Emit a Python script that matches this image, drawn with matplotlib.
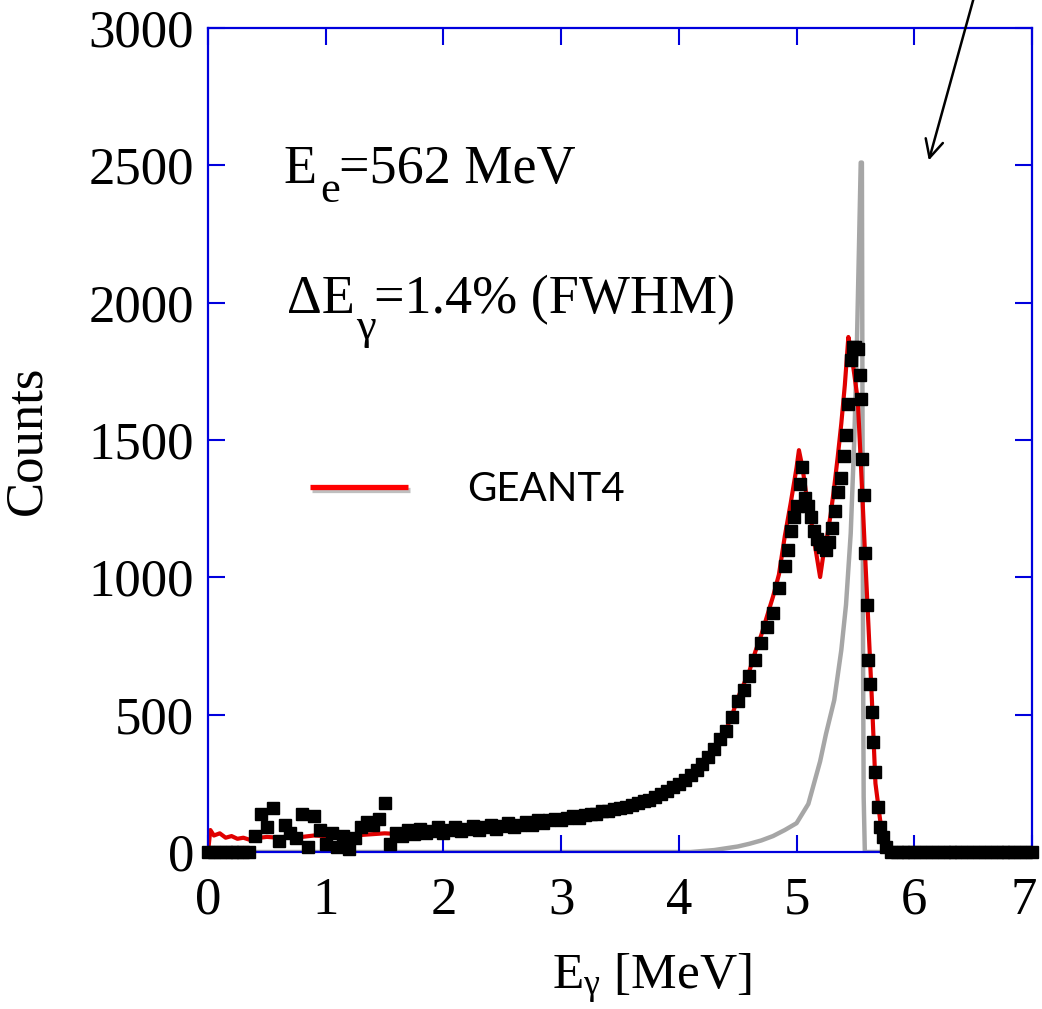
import numpy as np
import matplotlib
matplotlib.use('Agg')
import matplotlib.pyplot as plt
from matplotlib import patheffects as pe
from matplotlib.transforms import ScaledTranslation

plt.rcParams['font.family'] = ['Liberation Serif', 'DejaVu Serif']
plt.rcParams['mathtext.fontset'] = 'custom'
plt.rcParams['mathtext.rm'] = 'Liberation Serif'
plt.rcParams['mathtext.it'] = 'Liberation Serif:italic'

# Measured spectrum (black squares), E in MeV
e_data = [0.00, 0.05, 0.10, 0.15, 0.20, 0.25, 0.30, 0.35,
          0.40, 0.45, 0.50, 0.55, 0.60, 0.65, 0.70, 0.75, 0.80, 0.85, 0.90, 0.95,
          1.00, 1.05, 1.10, 1.15, 1.20, 1.25, 1.30, 1.35, 1.40, 1.45, 1.50, 1.55,
          1.60, 1.65, 1.70, 1.75, 1.80, 1.85, 1.90, 1.95, 2.00, 2.05, 2.10, 2.15,
          2.20, 2.25, 2.30, 2.35, 2.40, 2.45, 2.50, 2.55, 2.60, 2.65, 2.70, 2.75,
          2.80, 2.85, 2.90, 2.95, 3.00, 3.05, 3.10, 3.15, 3.20, 3.25, 3.30, 3.35,
          3.40, 3.45, 3.50, 3.55, 3.60, 3.65, 3.70, 3.75, 3.80, 3.85, 3.90, 3.95,
          4.00, 4.05, 4.10, 4.15, 4.20, 4.25, 4.30, 4.35, 4.40, 4.45, 4.50, 4.55,
          4.60, 4.65, 4.70, 4.75, 4.80, 4.85, 4.90, 4.925, 4.95, 4.975, 5.00, 5.025,
          5.05, 5.075, 5.10, 5.125, 5.15, 5.175, 5.20, 5.225, 5.25, 5.275, 5.30, 5.325,
          5.35, 5.375, 5.40, 5.42, 5.44, 5.46, 5.48, 5.50, 5.52, 5.54, 5.55, 5.56,
          5.57, 5.58, 5.60, 5.61, 5.62, 5.64, 5.65, 5.67, 5.69, 5.71, 5.73, 5.76,
          5.80, 5.85, 5.90, 5.95, 6.00, 6.05, 6.10, 6.15, 6.20, 6.25, 6.30, 6.35,
          6.40, 6.45, 6.50, 6.55, 6.60, 6.65, 6.70, 6.75, 6.80, 6.85, 6.90, 6.95, 7.00]
counts_data = [0, 0, 0, 0, 0, 0, 0, 0,
               60, 140, 90, 160, 40, 100, 70, 50, 140, 20, 130, 80,
               30, 70, 20, 60, 10, 50, 90, 110, 100, 120, 180, 30,
               70, 60, 80, 65, 85, 70, 75, 90, 70, 80, 90, 75,
               85, 95, 80, 90, 100, 85, 95, 105, 90, 100, 110, 100,
               115, 105, 115, 120, 115, 125, 130, 125, 135, 140, 140, 148,
               150, 155, 160, 165, 172, 178, 185, 190, 200, 210, 222, 235,
               248, 262, 280, 300, 320, 345, 375, 410, 440, 490, 550, 590,
               640, 700, 760, 820, 870, 960, 1040, 1100, 1170, 1220, 1260, 1340,
               1400, 1290, 1260, 1220, 1170, 1140, 1120, 1110, 1100, 1130, 1180, 1240,
               1310, 1360, 1440, 1520, 1630, 1790, 1840, 1840, 1830, 1736, 1650, 1430,
               1300, 1090, 900, 700, 610, 510, 400, 290, 165, 90, 55, 18,
               0, 0, 0, 0, 0, 0, 0, 0, 0, 0, 0, 0,
               0, 0, 0, 0, 0, 0, 0, 0, 0, 0, 0, 0, 0]

# GEANT4 simulation (red line)
e_geant = [0.00, 0.02, 0.05, 0.10, 0.15, 0.20, 0.25, 0.30, 0.35, 0.40, 0.50, 0.60,
           0.70, 0.80, 0.90, 1.00, 1.10, 1.20, 1.30, 1.40, 1.50, 1.60, 1.70, 1.80,
           1.90, 2.00, 2.10, 2.20, 2.30, 2.40, 2.50, 2.60, 2.70, 2.80, 2.90, 3.00,
           3.10, 3.20, 3.30, 3.40, 3.50, 3.60, 3.70, 3.80, 3.90, 4.00, 4.10, 4.20,
           4.30, 4.35, 4.40, 4.45, 4.50, 4.55, 4.60, 4.65, 4.70, 4.75, 4.80, 4.85,
           4.90, 4.95, 5.00, 5.02, 5.05, 5.08, 5.11, 5.14, 5.17, 5.20, 5.23, 5.26,
           5.29, 5.32, 5.35, 5.38, 5.41, 5.44, 5.46, 5.49, 5.52, 5.55, 5.58, 5.61,
           5.64, 5.67, 5.71, 5.75, 5.78, 5.80, 7.00]
counts_geant = [0, 80, 60, 68, 52, 58, 48, 52, 45, 50, 55, 52,
                58, 55, 60, 58, 62, 60, 62, 65, 68, 66, 70, 72,
                74, 76, 78, 82, 84, 88, 92, 96, 100, 105, 110, 115,
                122, 128, 136, 145, 155, 168, 182, 198, 218, 245, 275, 315,
                370, 405, 445, 495, 560, 610, 660, 730, 790, 860, 930, 1010,
                1150, 1270, 1400, 1463, 1400, 1310, 1245, 1160, 1080, 1001, 1090, 1150,
                1230, 1330, 1440, 1560, 1700, 1875, 1830, 1740, 1645, 1380, 1100, 830,
                553, 250, 116, 33, 5, 0, 0]

# Incident gamma spectrum (grey line)
e_ideal = [0.00, 4.10, 4.30, 4.50, 4.60, 4.70, 4.80, 4.90, 5.00, 5.10, 5.20, 5.25,
           5.32, 5.38, 5.42, 5.46, 5.49, 5.51, 5.53, 5.545, 5.555, 5.56, 5.565, 5.57,
           5.58, 7.00]
counts_ideal = [0, 0, 7, 20, 30, 42, 58, 80, 105, 175, 330, 430,
                553, 735, 900, 1160, 1500, 1800, 2200, 2510, 2510, 1600, 700, 200,
                0, 0]

blue = '#0000dd'

fig = plt.figure(figsize=(10.42, 10.09), dpi=100)
ax = fig.add_axes([208 / 1042, 157 / 1009, 824 / 1042, 824 / 1009])

ax.plot(e_ideal, counts_ideal, color='#a6a6a6', lw=3.2, zorder=1.5)
ax.plot(e_geant, counts_geant, color='#e00000', lw=3.0, zorder=1.8)
ax.plot(e_data, counts_data, linestyle='None', marker='s', ms=8.5,
        color='black', zorder=3, clip_on=False)

ax.set_xlim(0, 7)
ax.set_ylim(0, 3000)
ax.set_xticks(range(0, 8))
ax.set_yticks(range(0, 3001, 500))

for s in ax.spines.values():
    s.set_color(blue)
    s.set_linewidth(1.6)
ax.tick_params(direction='in', length=12, width=1.5, color=blue,
               top=True, right=True, labelsize=38, labelcolor='black')
ax.tick_params(axis='x', pad=18)
ax.tick_params(axis='y', pad=10)
# last x label sits on the figure edge, nudge it a bit left
last = ax.xaxis.get_major_ticks()[-1].label1
last.set_transform(last.get_transform() + ScaledTranslation(-8 / 100, 0, fig.dpi_scale_trans))

ax.set_xlabel(r'E$_\mathrm{γ}$ [MeV]', fontsize=37)
ax.xaxis.set_label_coords(0.538, -0.121)
ax.set_ylabel('Counts', fontsize=38)
ax.yaxis.set_label_coords(-0.190, 0.5)

# annotation texts, built piece by piece for the large low subscripts
ax.text(0.637, 2436, 'E', fontsize=39, va='baseline')
ax.text(0.955, 2366, 'e', fontsize=32, va='baseline')
ax.text(1.115, 2436, '=562 MeV', fontsize=39, va='baseline')
ax.text(0.671, 1962, 'ΔE', fontsize=39, va='baseline')
ax.text(1.262, 1868, 'γ', fontsize=32, va='baseline')
ax.text(1.412, 1962, '=1.4% (FWHM)', fontsize=39, va='baseline')

# legend drawn by hand
ax.plot([0.87, 1.70], [1329, 1329], color='#ff0000', lw=3.8, solid_capstyle='butt',
        path_effects=[pe.SimpleLineShadow(offset=(1.5, -2), shadow_color='gray', alpha=0.5),
                      pe.Normal()])
ax.text(2.2, 1320, 'GEANT4', fontsize=29, family=['Lato', 'DejaVu Sans'], va='center')

ax.annotate('', xy=(6.117, 2508), xytext=(6.525, 3140),
            arrowprops=dict(arrowstyle='->', lw=1.8, color='black', mutation_scale=32),
            annotation_clip=False)

fig.savefig('out.png', dpi=100)
